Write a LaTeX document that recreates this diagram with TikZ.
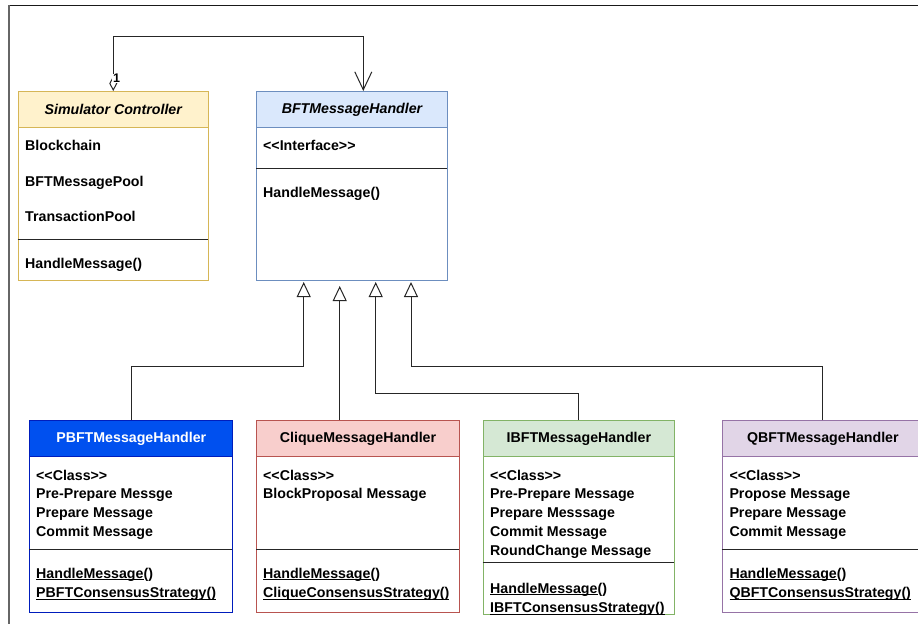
\documentclass[tikz,border=0pt]{standalone}
\usepackage{fontspec}
\setmainfont{Liberation Sans}
\usetikzlibrary{arrows.meta,calc}
\definecolor{simF}{HTML}{FFF2CC}\definecolor{simS}{HTML}{D6B656}
\definecolor{bftF}{HTML}{DAE8FC}\definecolor{bftS}{HTML}{6C8EBF}
\definecolor{pbF}{HTML}{0050EF}\definecolor{pbS}{HTML}{001DBC}
\definecolor{clF}{HTML}{F8CECC}\definecolor{clS}{HTML}{B85450}
\definecolor{ibF}{HTML}{D5E8D4}\definecolor{ibS}{HTML}{82B366}
\definecolor{qbF}{HTML}{E1D5E7}\definecolor{qbS}{HTML}{9673A6}
\newcommand\myul[1]{\setbox0\hbox{#1}\rlap{\rule[-1.7pt]{\wd0}{0.9pt}}\box0}
\newcommand\lt{\symbol{60}}
\newcommand\gt{\symbol{62}}
\tikzset{
  classbox/.style={draw=#1, fill=white, line width=1pt, anchor=north west, inner sep=0pt},
  hdr/.style={draw=#1, line width=1pt, anchor=north west, inner sep=0pt, minimum height=36pt,
     font=\fontsize{14.2}{16}\selectfont\bfseries},
  txt/.style={anchor=base west, inner sep=0pt, font=\fontsize{14.2}{16}\selectfont\bfseries},
  sep/.style={line width=1.2pt, black!85},
  inh/.style={line width=1pt, black!85, -{Triangle[open,length=15pt,width=14pt]}, shorten >=1pt},
  assoc/.style={line width=1pt, black!85, {Diamond[open,length=15pt,width=8pt]}-{Straight Barb[length=18pt,width=17pt]}},
}
\begin{document}
\begin{tikzpicture}[x=1pt,y=-1pt]
\useasboundingbox (0,0) rectangle (918,624);
\clip (0,0) rectangle (918,624);
% frame
\draw[black!90, line width=1pt] (8,5.7) -- (918,5.7);
\draw[black!60, line width=2pt] (8.5,5.2) -- (8.5,624);

% Simulator Controller
\node[classbox=simS, minimum width=190.5pt, minimum height=189pt] (sim) at (17.5,91) {};
\node[hdr=simS, fill=simF, minimum width=190.5pt] (simh) at (17.5,91) {\itshape Simulator Controller};
\node[txt] (sim1) at (25,150) {Blockchain};
\node[txt] (sim2) at (25,186) {BFTMessagePool};
\node[txt] (sim3) at (25,221.7) {TransactionPool};
\draw[sep] (17.5,239.3) -- (208,239.3);
\node[txt] (sim4) at (25,268.3) {HandleMessage()};

% BFTMessageHandler
\node[classbox=bftS, minimum width=191pt, minimum height=189pt] (bft) at (256,91) {};
\node[hdr=bftS, fill=bftF, minimum width=191pt] (bfth) at (256,91) {\itshape BFTMessageHandler};
\node[txt] (bft1) at (263,150.7) {\lt\lt Interface\gt\gt};
\draw[sep] (256,168.3) -- (447,168.3);
\node[txt] (bft2) at (263,197.3) {HandleMessage()};

% PBFT
\node[classbox=pbS, minimum width=203pt, minimum height=192.3pt] (pbf) at (29.3,420) {};
\node[hdr=pbS, fill=pbF, text=white, minimum width=203pt] (pbfh) at (29.3,420) {PBFTMessageHandler};
\node[txt] (pb1) at (36,480) {\lt\lt Class\gt\gt};
\node[txt] (pb2) at (36,498.5) {Pre-Prepare Messge};
\node[txt] (pb3) at (36,517.5) {Prepare Message};
\node[txt] (pb4) at (36,536.5) {Commit Message};
\draw[sep] (29.3,549.3) -- (232.3,549.3);
\node[txt] (pb5) at (36,578.3) {\myul{HandleMessage}()};
\node[txt] (pb6) at (36,597.7) {\myul{PBFTConsensusStrategy()}};

% Clique
\node[classbox=clS, minimum width=203pt, minimum height=192.3pt] (clq) at (256,420) {};
\node[hdr=clS, fill=clF, minimum width=203pt] (clqh) at (256,420) {CliqueMessageHandler};
\node[txt] (cl1) at (263,480) {\lt\lt Class\gt\gt};
\node[txt] (cl2) at (263,498.5) {BlockProposal Message};
\draw[sep] (256,549.3) -- (459,549.3);
\node[txt] (cl3) at (263,578.3) {\myul{HandleMessage}()};
\node[txt] (cl4) at (263,597.7) {\myul{CliqueConsensusStrategy()}};

% IBFT
\node[classbox=ibS, minimum width=191.3pt, minimum height=194.3pt] (ibf) at (482.7,420) {};
\node[hdr=ibS, fill=ibF, minimum width=191.3pt] (ibfh) at (482.7,420) {IBFTMessageHandler};
\node[txt] (ib1) at (490,480) {\lt\lt Class\gt\gt};
\node[txt] (ib2) at (490,498.5) {Pre-Prepare Message};
\node[txt] (ib3) at (490,517.5) {Prepare Messsage};
\node[txt] (ib4) at (490,536.5) {Commit Message};
\node[txt] (ib5) at (490,555.7) {RoundChange Message};
\draw[sep] (482.7,562.7) -- (674,562.7);
\node[txt] (ib6) at (490,593.3) {\myul{HandleMessage}()};
\node[txt] (ib7) at (490,612.7) {\myul{IBFTConsensusStrategy()}};

% QBFT
\node[classbox=qbS, minimum width=201.4pt, minimum height=192pt] (qbf) at (721.7,420) {};
\node[hdr=qbS, fill=qbF, minimum width=201.4pt] (qbfh) at (721.7,420) {QBFTMessageHandler};
\node[txt] (qb1) at (729.3,480) {\lt\lt Class\gt\gt};
\node[txt] (qb2) at (729.3,498.5) {Propose Message};
\node[txt] (qb3) at (729.3,517.5) {Prepare Message};
\node[txt] (qb4) at (729.3,536.5) {Commit Message};
\draw[sep] (721.7,549.3) -- (923.1,549.3);
\node[txt] (qb5) at (729.3,578.3) {\myul{HandleMessage}()};
\node[txt] (qb6) at (729.3,597.7) {\myul{QBFTConsensusStrategy()}};

% association
\coordinate (bt0) at ($(bft.north west)+(107.3,0)$);
\draw[assoc] (sim.north) -- ++(0,-54.7) -| (bt0);
\node[fill=white, inner sep=0.6pt, font=\fontsize{12.5}{14}\selectfont\bfseries] (one) at (116.5,78.5) {1};

% inheritance
\coordinate (bt1) at ($(bft.south west)+(47.7,0)$);
\coordinate (bt2) at ($(bft.south west)+(83.7,0)$);
\coordinate (bt3) at ($(bft.south west)+(119.7,0)$);
\coordinate (bt4) at ($(bft.south west)+(155,0)$);
\draw[inh] (pbf.north) |- ($(bt1)+(0,85.3)$) -- (bt1);
\draw[inh, shorten >=5pt] (bt2 |- clq.north) -- (bt2);
\draw[inh] (ibf.north) |- ($(bt3)+(0,112.7)$) -- (bt3);
\draw[inh] (qbf.north) |- ($(bt4)+(0,85.3)$) -- (bt4);
\end{tikzpicture}
\end{document}
